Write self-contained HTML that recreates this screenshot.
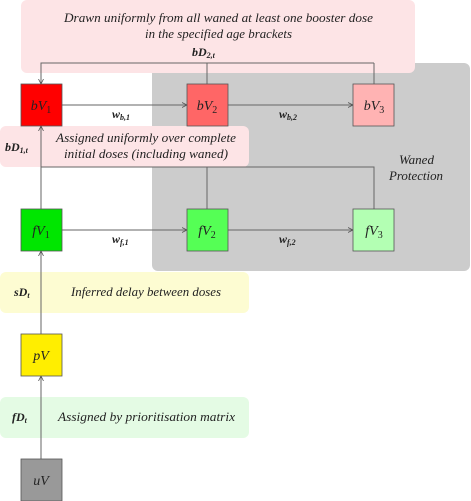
<!DOCTYPE html>
<html><head><meta charset="utf-8"><style>
html,body{margin:0;padding:0;background:#fff;}
svg{display:block;}
text{font-family:"Liberation Serif",serif;fill:#222;}
.it{font-style:italic;font-size:12.5px;}
.b{font-style:italic;font-weight:bold;font-size:12px;}
.n{font-style:italic;font-size:14px;}
</style></head><body>
<svg width="471" height="501" viewBox="0 0 471 501" xmlns="http://www.w3.org/2000/svg">
<defs><marker id="a" markerWidth="6" markerHeight="6" refX="5" refY="3" orient="auto"><path d="M0,0.5 L5,3 L0,5.5" fill="none" stroke="#555" stroke-width="0.8"/></marker></defs>
<rect x="152" y="63" width="318" height="208" rx="6" fill="#cccccc"/>
<rect x="21" y="0" width="394" height="73" rx="6" fill="#fde4e6"/>
<rect x="0" y="126" width="249" height="41" rx="6" fill="#fde4e6"/>
<rect x="0" y="272" width="249" height="41" rx="6" fill="#fdfcd2"/>
<rect x="0" y="397" width="249" height="41" rx="6" fill="#e4fbe4"/>
<g stroke="#666" stroke-width="1" fill="none">
<path d="M207,84 V63 M374,84 V63 M374,63 H41 V84" marker-end="url(#a)"/>
<path d="M207,209 V167 M374,209 V167 H41"/>
<path d="M41,209 V126" marker-end="url(#a)"/>
<path d="M41,334 V251" marker-end="url(#a)"/>
<path d="M41,459 V376" marker-end="url(#a)"/>
<path d="M62,105 H187" marker-end="url(#a)"/>
<path d="M228,105 H353" marker-end="url(#a)"/>
<path d="M62,230 H187" marker-end="url(#a)"/>
<path d="M228,230 H353" marker-end="url(#a)"/>
</g>
<g stroke="#555" stroke-width="0.8">
<rect x="21" y="84" width="41" height="42" fill="#ff0000"/>
<rect x="187" y="84" width="41" height="42" fill="#ff6666"/>
<rect x="353" y="84" width="41" height="42" fill="#ffb3b3"/>
<rect x="21" y="209" width="41" height="42" fill="#00e600"/>
<rect x="187" y="209" width="41" height="42" fill="#55ff55"/>
<rect x="353" y="209" width="41" height="42" fill="#b3ffb3"/>
<rect x="21" y="334" width="41" height="42" fill="#ffee00"/>
<rect x="21" y="459" width="41" height="42" fill="#999999"/>
</g>
<g class="n" text-anchor="middle">
<text x="41" y="110">bV<tspan font-size="10" font-style="normal" dy="3">1</tspan></text>
<text x="207" y="110">bV<tspan font-size="10" font-style="normal" dy="3">2</tspan></text>
<text x="374" y="110">bV<tspan font-size="10" font-style="normal" dy="3">3</tspan></text>
<text x="41" y="235">fV<tspan font-size="10" font-style="normal" dy="3">1</tspan></text>
<text x="207" y="235">fV<tspan font-size="10" font-style="normal" dy="3">2</tspan></text>
<text x="374" y="235">fV<tspan font-size="10" font-style="normal" dy="3">3</tspan></text>
<text x="41" y="360">pV</text><text x="41" y="485">uV</text>
</g>
<g class="it">
<text x="64" y="22" textLength="309" lengthAdjust="spacingAndGlyphs">Drawn uniformly from all waned at least one booster dose</text>
<text x="145" y="38" textLength="147" lengthAdjust="spacingAndGlyphs">in the specified age brackets</text>
<text x="56" y="142" textLength="180" lengthAdjust="spacingAndGlyphs">Assigned uniformly over complete</text>
<text x="64" y="158" textLength="164" lengthAdjust="spacingAndGlyphs">initial doses (including waned)</text>
<text x="399" y="164" textLength="35" lengthAdjust="spacingAndGlyphs">Waned</text>
<text x="389" y="180" textLength="54" lengthAdjust="spacingAndGlyphs">Protection</text>
<text x="71" y="296" textLength="150" lengthAdjust="spacingAndGlyphs">Inferred delay between doses</text>
<text x="58" y="421" textLength="177" lengthAdjust="spacingAndGlyphs">Assigned by prioritisation matrix</text>
</g>
<g class="b">
<text x="192" y="56">bD<tspan font-size="8" dy="2">2,t</tspan></text>
<text x="5" y="151">bD<tspan font-size="8" dy="2">1,t</tspan></text>
<text x="112" y="118">w<tspan font-size="8" dy="2">b,1</tspan></text>
<text x="279" y="118">w<tspan font-size="8" dy="2">b,2</tspan></text>
<text x="112" y="243">w<tspan font-size="8" dy="2">f,1</tspan></text>
<text x="279" y="243">w<tspan font-size="8" dy="2">f,2</tspan></text>
<text x="14" y="296">sD<tspan font-size="8" dy="2">t</tspan></text>
<text x="12" y="421">fD<tspan font-size="8" dy="2">t</tspan></text>
</g>
</svg>
</body></html>
